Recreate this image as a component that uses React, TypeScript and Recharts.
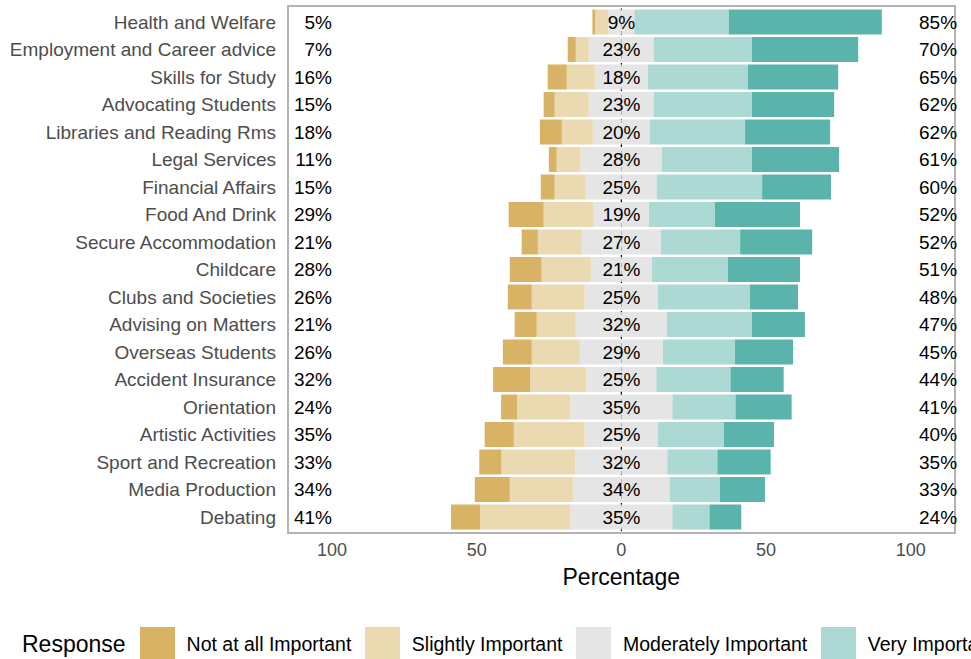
import React from 'react';
import { BarChart, Bar, XAxis, YAxis, ReferenceLine, Legend } from 'recharts';

const FONT = '"Liberation Sans", Arial, Helvetica, sans-serif';

const categories = [
  'Health and Welfare',
  'Employment and Career advice',
  'Skills for Study',
  'Advocating Students',
  'Libraries and Reading Rms',
  'Legal Services',
  'Financial Affairs',
  'Food And Drink',
  'Secure Accommodation',
  'Childcare',
  'Clubs and Societies',
  'Advising on Matters',
  'Overseas Students',
  'Accident Insurance',
  'Orientation',
  'Artistic Activities',
  'Sport and Recreation',
  'Media Production',
  'Debating',
];

const notAtAll = [1.0, 2.8, 6.6, 3.8, 7.6, 2.7, 4.8, 12.1, 5.6, 11.0, 8.3, 7.6, 10.0, 12.8, 5.5, 10.1, 7.6, 12.1, 10.0];
const slightly = [4.5, 4.5, 9.7, 11.8, 10.7, 8.3, 10.8, 17.3, 15.2, 17.0, 18.3, 13.5, 16.6, 19.4, 18.4, 24.5, 25.6, 21.8, 31.2];
const moderately = [9.0, 22.5, 18.3, 22.5, 19.7, 28.1, 24.5, 19.1, 27.3, 21.1, 25.3, 31.5, 28.7, 24.2, 35.3, 25.3, 31.8, 33.5, 35.3];
const very = [32.6, 33.9, 34.6, 33.9, 32.9, 31.1, 36.4, 22.8, 27.4, 26.3, 31.8, 29.4, 24.9, 25.6, 21.8, 22.8, 17.3, 17.3, 12.8];
const extremely = [52.9, 36.7, 31.2, 28.4, 29.4, 30.1, 23.8, 29.4, 24.9, 24.9, 16.6, 18.3, 20.1, 18.4, 19.4, 17.3, 18.4, 15.6, 11.0];

const lowLabels = [5, 7, 16, 15, 18, 11, 15, 29, 21, 28, 26, 21, 26, 32, 24, 35, 33, 34, 41];
const neutralLabels = [9, 23, 18, 23, 20, 28, 25, 19, 27, 21, 25, 32, 29, 25, 35, 25, 32, 34, 35];
const highLabels = [85, 70, 65, 62, 62, 61, 60, 52, 52, 51, 48, 47, 45, 44, 41, 40, 35, 33, 24];

const xTicks = [-100, -50, 0, 50, 100];

const responses = [
  'Not at all Important',
  'Slightly Important',
  'Moderately Important',
  'Very Important',
  'Extremely Important',
];
const colors = ['#D8B365', '#EBD9B2', '#E5E5E5', '#ADD9D5', '#5AB4AC'];

const data = categories.map((name, i) => ({
  name,
  modL: -moderately[i] / 2,
  slL: -slightly[i],
  notL: -notAtAll[i],
  modR: moderately[i] / 2,
  very: very[i],
  ext: extremely[i],
}));

const RowTick = (props: any) => {
  const { x, y, payload } = props;
  const i = categories.indexOf(payload.value);
  const common = {
    y,
    dominantBaseline: 'central' as const,
    fontSize: 19,
    fontFamily: FONT,
  };
  return (
    <g>
      <text x={x} textAnchor="end" fill="#4D4D4D" {...common}>
        {payload.value}
      </text>
      <text x={x + 56} textAnchor="end" fill="#000000" {...common}>
        {lowLabels[i]}%
      </text>
      <text x={x + 345.5} textAnchor="middle" fill="#000000" {...common}>
        {neutralLabels[i]}%
      </text>
      <text x={x + 643} textAnchor="start" fill="#000000" {...common}>
        {highLabels[i]}%
      </text>
    </g>
  );
};

const LegendContent = () => (
  <div
    style={{
      display: 'flex',
      alignItems: 'center',
      whiteSpace: 'nowrap',
      fontFamily: FONT,
      color: '#000000',
      height: 35,
    }}
  >
    <span style={{ fontSize: 23, marginRight: 14 }}>Response</span>
    {responses.map((r, i) => (
      <React.Fragment key={r}>
        <span
          style={{
            display: 'inline-block',
            width: 35,
            height: 35,
            background: colors[i],
            marginRight: 12,
            flex: 'none',
          }}
        />
        <span style={{ fontSize: 19.5, marginRight: 13.5 }}>{r}</span>
      </React.Fragment>
    ))}
  </div>
);

export default function App() {
  return (
    <div
      style={{
        position: 'absolute',
        left: 0,
        top: 0,
        width: 971,
        height: 659,
        overflow: 'hidden',
        background: '#ffffff',
      }}
    >
      <div
        style={{
          position: 'absolute',
          left: 287,
          top: 5,
          width: 669,
          height: 529,
          border: '2px solid #B3B3B3',
          boxSizing: 'border-box',
        }}
      />
      <div style={{ position: 'absolute', left: 0, top: 0 }}>
        <BarChart
          width={971}
          height={659}
          data={data}
          layout="vertical"
          stackOffset="sign"
          barSize={25}
          margin={{ top: 8.5, right: 16.3, bottom: 68, left: 8 }}
        >
          <XAxis
            type="number"
            domain={[-115.2, 115.2]}
            ticks={xTicks}
            allowDataOverflow
            tickFormatter={(v: number) => String(Math.abs(v))}
            tickLine={false}
            axisLine={false}
            tickSize={0}
            tickMargin={12}
            height={60}
            tick={{ fill: '#4D4D4D', fontSize: 18, fontFamily: FONT }}
            label={{
              value: 'Percentage',
              position: 'insideBottom',
              offset: 6.5,
              fill: '#000000',
              fontSize: 23,
              fontFamily: FONT,
            }}
          />
          <ReferenceLine
            x={0}
            stroke="#000000"
            strokeWidth={1.2}
            strokeDasharray="4 4"
            zIndex={-10}
          />
          <Bar dataKey="modL" stackId="a" fill={colors[2]} isAnimationActive={false} />
          <Bar dataKey="slL" stackId="a" fill={colors[1]} isAnimationActive={false} />
          <Bar dataKey="notL" stackId="a" fill={colors[0]} isAnimationActive={false} />
          <Bar dataKey="modR" stackId="a" fill={colors[2]} isAnimationActive={false} />
          <Bar dataKey="very" stackId="a" fill={colors[3]} isAnimationActive={false} />
          <Bar dataKey="ext" stackId="a" fill={colors[4]} isAnimationActive={false} />
          <YAxis
            type="category"
            dataKey="name"
            width={280}
            interval={0}
            tickSize={0}
            tickMargin={12}
            tickLine={false}
            axisLine={false}
            tick={(p: any) => <RowTick {...p} />}
          />
          <Legend
            layout="horizontal"
            verticalAlign="middle"
            align="center"
            content={LegendContent}
            wrapperStyle={{
              position: 'absolute',
              left: 22,
              top: 627,
              width: 1400,
              height: 35,
              margin: 0,
              padding: 0,
            }}
          />
        </BarChart>
      </div>
    </div>
  );
}
